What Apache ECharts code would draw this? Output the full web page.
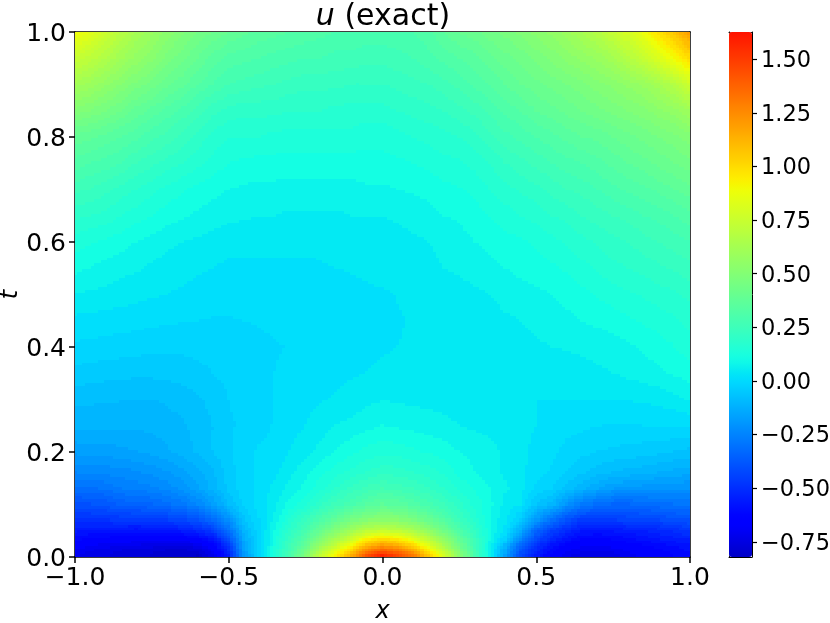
<!DOCTYPE html>
<html><head><meta charset="utf-8">
<style>html,body{margin:0;padding:0;background:#fff}#c{width:830px;height:623px}</style>
<script src="https://cdn.jsdelivr.net/npm/echarts@6/dist/echarts.min.js"></script>
</head><body><div id="c"></div>
<script>
const xValues=[-1,-.95,-.9,-.85,-.8,-.75,-.7,-.65,-.6,-.55,-.5,-.45,-.4,-.35,-.3,-.25,-.2,-.15,-.1,-.05,0,.05,.1,.15,.2,.25,.3,.35,.4,.45,.5,.55,.6,.65,.7,.75,.8,.85,.9,.95,1];
const tValues=[1,.95,.9,.85,.8,.75,.7,.65,.6,.55,.5,.45,.4,.35,.3,.25,.2,.16,.13,.1,.07,.05,.03,.02,.01,0];
const uRows=[
[.90,.84,.76,.69,.63,.58,.53,.49,.45,.42,.39,.37,.35,.34,.33,.32,.31,.30,.30,.29,.29,.29,.30,.32,.36,.39,.41,.44,.46,.49,.52,.55,.59,.63,.68,.74,.80,.88,.98,1.08,1.20],
[.75,.71,.66,.61,.56,.52,.47,.43,.39,.35,.32,.31,.30,.29,.28,.27,.27,.26,.26,.25,.25,.26,.27,.29,.31,.33,.35,.38,.41,.43,.46,.49,.52,.55,.58,.62,.68,.74,.82,.91,1.00],
[.62,.59,.55,.51,.47,.44,.40,.37,.33,.30,.27,.26,.25,.24,.23,.22,.22,.22,.21,.21,.21,.22,.23,.24,.26,.28,.31,.33,.36,.39,.41,.43,.45,.47,.50,.52,.55,.58,.62,.68,.77],
[.50,.48,.45,.42,.38,.35,.32,.29,.26,.22,.20,.19,.19,.19,.18,.18,.18,.17,.17,.17,.17,.18,.19,.20,.21,.23,.25,.28,.31,.33,.36,.38,.40,.42,.44,.46,.48,.50,.53,.56,.60],
[.38,.37,.35,.33,.31,.28,.26,.23,.20,.17,.15,.15,.15,.14,.14,.14,.14,.14,.14,.13,.13,.14,.15,.16,.17,.18,.20,.23,.26,.28,.30,.32,.34,.36,.37,.39,.41,.43,.45,.47,.50],
[.32,.30,.29,.27,.24,.22,.20,.18,.16,.14,.12,.115,.11,.11,.105,.105,.105,.105,.105,.11,.11,.115,.12,.13,.14,.145,.16,.18,.21,.23,.25,.27,.29,.30,.32,.34,.36,.38,.40,.42,.44],
[.25,.24,.22,.20,.18,.16,.14,.125,.11,.10,.09,.085,.08,.08,.08,.08,.08,.08,.08,.085,.085,.09,.095,.10,.11,.117,.13,.15,.17,.185,.20,.22,.24,.25,.27,.29,.31,.32,.34,.36,.38],
[.19,.18,.17,.15,.135,.12,.105,.095,.085,.075,.07,.065,.06,.06,.055,.055,.055,.055,.06,.06,.06,.065,.07,.08,.09,.093,.105,.12,.135,.15,.16,.18,.19,.21,.225,.24,.25,.27,.28,.30,.32],
[.135,.125,.115,.105,.09,.08,.07,.06,.055,.05,.04,.038,.036,.035,.034,.034,.035,.038,.04,.045,.048,.05,.055,.06,.07,.08,.09,.10,.11,.115,.125,.14,.155,.17,.185,.20,.21,.23,.24,.255,.27],
[.10,.09,.08,.07,.065,.055,.045,.04,.035,.03,.025,.026,.027,.027,.027,.027,.028,.03,.032,.035,.04,.042,.045,.05,.06,.065,.07,.08,.09,.10,.105,.115,.125,.14,.155,.17,.18,.19,.205,.215,.23],
[.06,.055,.05,.045,.04,.035,.03,.025,.02,.015,.01,.012,.014,.016,.018,.02,.022,.023,.024,.025,.027,.031,.035,.04,.045,.05,.055,.06,.07,.075,.083,.09,.10,.11,.125,.135,.145,.155,.165,.175,.19],
[.022,.02,.018,.015,.012,.008,.004,.002,0,-.002,-.002,0,.002,.006,.01,.012,.015,.017,.019,.02,.022,.028,.032,.035,.037,.04,.044,.048,.055,.06,.068,.075,.082,.09,.098,.105,.115,.125,.135,.145,.16],
[-.005,-.008,-.012,-.014,-.017,-.022,-.022,-.022,-.02,-.015,-.01,-.008,-.006,-.002,.001,.005,.01,.014,.018,.024,.027,.03,.032,.034,.036,.037,.039,.042,.045,.05,.055,.06,.063,.066,.07,.075,.085,.095,.105,.12,.135],
[-.04,-.044,-.048,-.05,-.052,-.052,-.05,-.046,-.04,-.03,-.02,-.016,-.01,0,.006,.012,.018,.022,.027,.03,.035,.036,.037,.037,.037,.038,.038,.039,.04,.04,.04,.042,.045,.05,.055,.06,.068,.075,.085,.095,.105],
[-.08,-.083,-.085,-.087,-.09,-.09,-.085,-.075,-.065,-.05,-.03,-.025,-.012,0,.012,.02,.027,.033,.04,.05,.058,.055,.052,.05,.047,.045,.042,.04,.037,.033,.03,.03,.03,.03,.03,.03,.033,.036,.04,.05,.065],
[-.11,-.112,-.114,-.115,-.115,-.11,-.105,-.095,-.08,-.06,-.032,-.028,-.012,.003,.018,.03,.045,.06,.07,.08,.09,.085,.08,.075,.07,.06,.055,.05,.045,.037,.03,.024,.012,.006,.001,-.003,-.002,0,.002,.003,.005],
[-.17,-.168,-.165,-.158,-.15,-.14,-.125,-.105,-.085,-.06,-.035,-.012,.005,.01,.03,.05,.07,.09,.11,.13,.14,.135,.125,.115,.105,.09,.08,.07,.055,.04,.022,.008,-.01,-.02,-.03,-.035,-.04,-.045,-.05,-.06,-.07],
[-.24,-.235,-.23,-.225,-.215,-.2,-.185,-.16,-.13,-.095,-.045,-.015,.005,.02,.05,.08,.11,.135,.16,.18,.20,.195,.18,.165,.145,.11,.09,.075,.055,.04,.012,-.005,-.03,-.055,-.075,-.09,-.1,-.11,-.12,-.13,-.14],
[-.31,-.305,-.295,-.27,-.26,-.25,-.23,-.2,-.16,-.11,-.05,-.015,.01,.04,.07,.1,.14,.18,.22,.25,.27,.26,.24,.215,.18,.145,.115,.09,.065,.04,-.005,-.03,-.07,-.11,-.15,-.18,-.19,-.2,-.2,-.205,-.21],
[-.40,-.39,-.38,-.35,-.34,-.33,-.31,-.28,-.24,-.18,-.09,-.02,.01,.05,.1,.14,.2,.25,.29,.33,.36,.35,.32,.28,.24,.19,.14,.1,.05,.03,-.06,-.1,-.2,-.27,-.31,-.33,-.33,-.32,-.31,-.3,-.29],
[-.49,-.49,-.48,-.47,-.47,-.46,-.45,-.43,-.39,-.32,-.21,-.07,0,.07,.15,.23,.31,.38,.45,.5,.52,.51,.47,.4,.33,.25,.17,.09,.04,-.04,-.18,-.3,-.4,-.46,-.46,-.45,-.44,-.43,-.42,-.4,-.39],
[-.56,-.57,-.575,-.58,-.585,-.58,-.57,-.55,-.52,-.46,-.31,-.11,-.01,.09,.19,.28,.40,.50,.60,.69,.72,.7,.64,.54,.43,.31,.21,.1,.02,-.13,-.33,-.44,-.51,-.56,-.57,-.56,-.55,-.54,-.52,-.5,-.47],
[-.63,-.65,-.66,-.67,-.68,-.68,-.69,-.69,-.66,-.6,-.42,-.15,-.02,.11,.23,.35,.51,.65,.8,.97,1.05,1.0,.9,.74,.57,.4,.25,.09,-.03,-.25,-.43,-.53,-.6,-.65,-.66,-.64,-.62,-.6,-.58,-.56,-.55],
[-.67,-.69,-.71,-.72,-.73,-.74,-.75,-.75,-.73,-.66,-.48,-.17,-.03,.12,.25,.39,.58,.74,.92,1.12,1.22,1.16,1.03,.84,.64,.44,.26,.08,-.11,-.34,-.48,-.59,-.65,-.69,-.69,-.68,-.66,-.64,-.62,-.6,-.58],
[-.70,-.72,-.74,-.76,-.77,-.78,-.79,-.80,-.78,-.70,-.52,-.18,-.02,.13,.27,.44,.66,.85,1.05,1.3,1.42,1.35,1.2,.97,.74,.5,.28,.08,-.14,-.38,-.52,-.62,-.69,-.72,-.73,-.72,-.69,-.66,-.64,-.62,-.6],
[-.72,-.74,-.75,-.76,-.77,-.78,-.79,-.81,-.82,-.74,-.55,-.2,-.02,.14,.28,.5,.75,.95,1.17,1.45,1.62,1.5,1.35,1.08,.82,.55,.3,.08,-.17,-.42,-.55,-.65,-.72,-.74,-.75,-.74,-.71,-.67,-.65,-.63,-.62]
];
const cbarTicks=[-.75,-.5,-.25,0,.25,.5,.75,1,1.25,1.5];

const uMin=-.821,uMax=1.627,jetMin=-1,jetMax=1.95,bandStep=.03;
function seg(p,f){for(let i=1;i<p.length;i++){if(f<=p[i][0]){const a=p[i-1],b=p[i];return a[1]+(b[1]-a[1])*(f-a[0])/(b[0]-a[0]);}}return p[p.length-1][1];}
const R=[[0,0],[.35,0],[.66,1],[.89,1],[1,.5]],G=[[0,0],[.125,0],[.375,1],[.64,1],[.91,0],[1,0]],B=[[0,.5],[.11,1],[.34,1],[.65,0],[1,0]];
function jetColor(v){const f=(v-jetMin)/(jetMax-jetMin);return 'rgb('+[R,G,B].map(c=>Math.round(255*seg(c,f))).join(',')+')';}
function bandColor(v){return jetColor(Math.max(uMin,Math.min(uMax,(Math.floor(v/bandStep)+.5)*bandStep)));}
const barColors=[];
for(let i=0;i<=96;i++)barColors.push(jetColor(uMin+(uMax-uMin)*i/96));

const edges=a=>a.map((v,i)=>[i?(v+a[i-1])/2:v,i<a.length-1?(v+a[i+1])/2:v]);
const xEdges=edges(xValues),tEdges=edges(tValues);
const cells=[];
uRows.forEach((row,r)=>row.forEach((u,c)=>cells.push([xValues[c],tValues[r],u])));
const nx=xValues.length,nt=tValues.length;
// display shading between the read grid nodes (contour-band look of the original)
function shade(x,t){
 let c=0;while(c<nx-2&&x>xValues[c+1])c++;
 let r=0;while(r<nt-2&&t<tValues[r+1])r++;
 const a=(x-xValues[c])/(xValues[c+1]-xValues[c]),b=(t-tValues[r])/(tValues[r+1]-tValues[r]);
 return (1-b)*((1-a)*uRows[r][c]+a*uRows[r][c+1])+b*((1-a)*uRows[r+1][c]+a*uRows[r+1][c+1]);
}
const F='"DejaVu Sans"',fs=25;
const fmt=(d)=>v=>(v<0?'\u2212':'')+Math.abs(v).toFixed(d);
const shifted=(d)=>v=>'{a|'+fmt(d)(v)+'}';
const line={show:true,onZero:false,lineStyle:{color:'#000',width:1.5}};
const tick={show:true,length:6,lineStyle:{color:'#000',width:1.5}};
const thin={show:true,onZero:false,lineStyle:{color:'#000',width:1}};
const none={axisTick:{show:false},axisLabel:{show:false},splitLine:{show:false}};
const chart=echarts.init(document.getElementById('c'),null,{renderer:'canvas'});
chart.setOption({
 animation:false,backgroundColor:'#fff',
 title:{text:'{i|u} (exact)',left:378,textAlign:'center',top:-3,textStyle:{fontFamily:F,fontSize:30,fontWeight:'normal',color:'#000',rich:{i:{fontFamily:F,fontSize:30,fontStyle:'italic',color:'#000'}}}},
 grid:[{left:75,top:32,width:615,height:525,outerBoundsMode:'none'},{left:729,top:32,width:23,height:525,outerBoundsMode:'none'}],
 xAxis:[
  {type:'value',gridIndex:0,min:-1,max:1,interval:.5,position:'bottom',axisLine:line,axisTick:tick,splitLine:{show:false},
   axisLabel:{fontFamily:F,fontSize:fs,color:'#000',margin:9,formatter:fmt(1)},
   name:'x',nameLocation:'middle',nameGap:43,nameTextStyle:{fontFamily:F,fontSize:24,fontStyle:'italic',color:'#000'}},
  {type:'value',gridIndex:0,min:-1,max:1,position:'top',axisLine:line,...none},
  {type:'value',gridIndex:1,min:0,max:1,position:'bottom',axisLine:thin,...none},
  {type:'value',gridIndex:1,min:0,max:1,position:'top',axisLine:thin,...none}
 ],
 yAxis:[
  {type:'value',gridIndex:0,min:0,max:1,interval:.2,position:'left',axisLine:line,axisTick:tick,splitLine:{show:false},
   axisLabel:{margin:9,formatter:shifted(1),rich:{a:{fontFamily:F,fontSize:fs,color:'#000',padding:[4,0,0,0]}}},
   name:'t',nameLocation:'middle',nameGap:52,nameMoveOverlap:false,nameRotate:90,nameTextStyle:{fontFamily:F,fontSize:24,fontStyle:'italic',color:'#000'}},
  {type:'value',gridIndex:0,min:0,max:1,position:'right',axisLine:line,...none},
  {type:'value',gridIndex:1,min:uMin,max:uMax,position:'right',axisLine:thin,
   axisTick:{show:true,length:5,lineStyle:{color:'#000',width:1.2},customValues:cbarTicks},
   axisLabel:{margin:9,customValues:cbarTicks,formatter:shifted(2),rich:{a:{fontFamily:F,fontSize:22.5,color:'#000',padding:[4,0,0,0]}}},splitLine:{show:false}},
  {type:'value',gridIndex:1,min:uMin,max:uMax,position:'left',axisLine:thin,...none}
 ],
 visualMap:{type:'continuous',min:uMin,max:uMax,dimension:2,seriesIndex:0,calculable:false,showLabel:false,text:null,padding:0,
  left:729,top:32,itemWidth:23,itemHeight:525,hoverLink:false,inRange:{color:barColors}},
 series:[{type:'custom',xAxisIndex:0,yAxisIndex:0,coordinateSystem:'cartesian2d',silent:true,clip:true,
  data:cells,encode:{x:0,y:1},
  renderItem(params,api){
   const i=params.dataIndex,c=i%nx,r=Math.floor(i/nx);
   const X=xEdges[c],T=tEdges[r];
   const a=api.coord([X[0],T[0]]),b=api.coord([X[1],T[1]]);
   const nSx=Math.max(1,Math.round((b[0]-a[0])/3)),nSt=Math.max(1,Math.round((b[1]-a[1])/3));
   const children=[];
   for(let p=0;p<nSx;p++)for(let q=0;q<nSt;q++){
    const xa=X[0]+(X[1]-X[0])*p/nSx,xb=X[0]+(X[1]-X[0])*(p+1)/nSx;
    const ta=T[0]+(T[1]-T[0])*q/nSt,tb=T[0]+(T[1]-T[0])*(q+1)/nSt;
    const A=api.coord([xa,ta]),B2=api.coord([xb,tb]);
    const x0=Math.floor(A[0]),x1=Math.ceil(B2[0]),y0=Math.floor(A[1]),y1=Math.ceil(B2[1]);
    children.push({type:'rect',shape:{x:x0,y:y0,width:x1-x0,height:y1-y0},style:{fill:bandColor(shade((xa+xb)/2,(ta+tb)/2))}});
   }
   return {type:'group',children};
  }}]
});
</script></body></html>
